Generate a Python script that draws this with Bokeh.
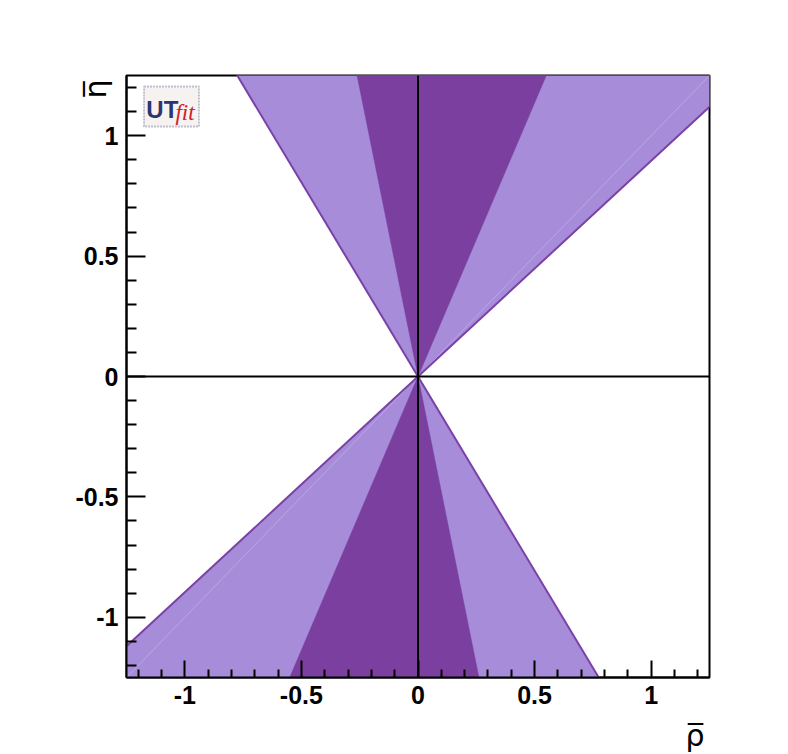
import math
from bokeh.plotting import figure
from bokeh.models import (FixedTicker, Span, Label, BoxAnnotation, Range1d,
                          NumeralTickFormatter, Title)
from bokeh.embed import file_html
from bokeh.resources import INLINE

# ---- data ----
rho_range = [-1.25, 1.25]
eta_range = [-1.25, 1.25]
# boundaries of the allowed regions, expressed as rho/eta ratios of rays through the origin
ratio_95 = [-0.62, 1.116]   # outer (light) region
ratio_68 = [-0.209, 0.44]   # inner (dark) region
ratio_seam = [1.0]          # faint seam inside the light region
major_ticks = [-1.0, -0.5, 0.0, 0.5, 1.0]
minor_ticks = [-1.2, -1.1, -0.9, -0.8, -0.7, -0.6, -0.4, -0.3, -0.2, -0.1,
               0.1, 0.2, 0.3, 0.4, 0.6, 0.7, 0.8, 0.9, 1.1, 1.2]

LIGHT = "#a68cd9"
DARK = "#7b3fa0"
EDGE = "#7a42a6"
FAR = 4.0

p = figure(frame_width=583, frame_height=602,
           x_range=Range1d(*rho_range), y_range=Range1d(*eta_range),
           output_backend="svg", toolbar_location=None,
           min_border_left=126, min_border_right=71,
           min_border_top=75, min_border_bottom=69)
p.grid.visible = False
p.outline_line_color = "black"
p.outline_line_width = 2
p.background_fill_color = "white"
p.border_fill_color = "white"


def wedge(r_lo, r_hi, sign):
    e = sign * FAR
    return [0, r_lo * e, r_hi * e], [0, e, e]


xs, ys = [], []
for s in (1, -1):
    x, y = wedge(ratio_95[0], ratio_95[1], s)
    xs.append(x); ys.append(y)
p.patches(xs, ys, fill_color=LIGHT, line_color=LIGHT, line_width=0.5)

xs, ys = [], []
for s in (1, -1):
    x, y = wedge(ratio_68[0], ratio_68[1], s)
    xs.append(x); ys.append(y)
p.patches(xs, ys, fill_color=DARK, line_color=DARK, line_width=0.5)

for r in ratio_seam:
    p.line([-r * FAR, r * FAR], [-FAR, FAR], line_color="#bba6e6", line_width=1)

for r in ratio_95:
    p.line([-r * FAR, r * FAR], [-FAR, FAR], line_color=EDGE, line_width=2)

p.add_layout(Span(location=0, dimension="width", line_color="black", line_width=2))
p.add_layout(Span(location=0, dimension="height", line_color="black", line_width=2))

for ax, (mj, mn) in ((p.xaxis[0], (17, 8)), (p.yaxis[0], (19, 10))):
    ax.ticker = FixedTicker(ticks=major_ticks, minor_ticks=minor_ticks)
    ax.formatter = NumeralTickFormatter(format="0.[0]")
    ax.major_tick_in = mj
    ax.major_tick_out = 0
    ax.minor_tick_in = mn
    ax.minor_tick_out = 0
    ax.axis_line_width = 2
    ax.major_tick_line_width = 2
    ax.minor_tick_line_width = 2
    ax.major_label_text_font = "Liberation Sans"
    ax.major_label_text_font_style = "bold"
    ax.major_label_text_font_size = "25px"
    ax.major_label_text_color = "black"
    ax.major_label_standoff = 8

# axis titles (placed as side titles so they are not clipped by the frame)
p.add_layout(Title(text="\u03c1\u0305", align="right", text_font="DejaVu Sans",
                   text_font_style="normal", text_font_size="30px",
                   text_color="black", standoff=18, offset=5), "below")
p.add_layout(Title(text="\u03b7\u0305", align="right", text_font="DejaVu Sans",
                   text_font_style="normal", text_font_size="30px",
                   text_color="black", standoff=-80, offset=4), "left")

# UTfit logo
p.add_layout(BoxAnnotation(left=-1.175, right=-0.939, bottom=1.038, top=1.204,
                           fill_color="#f6f2f0", fill_alpha=1.0,
                           line_color="#3c3c78", line_width=2, line_dash="2 1"))
p.add_layout(Label(x=-1.165, y=1.108, text="UT", text_align="left",
                   text_baseline="alphabetic", text_font="Liberation Sans",
                   text_font_style="bold", text_font_size="24px",
                   text_color="#2c3474"))
p.add_layout(Label(x=-1.04, y=1.095, text="fit", text_align="left",
                   text_baseline="alphabetic", text_font="Liberation Serif",
                   text_font_style="italic", text_font_size="23px",
                   text_color="#d0202c"))

open("out.html", "w").write(file_html(p, INLINE))
